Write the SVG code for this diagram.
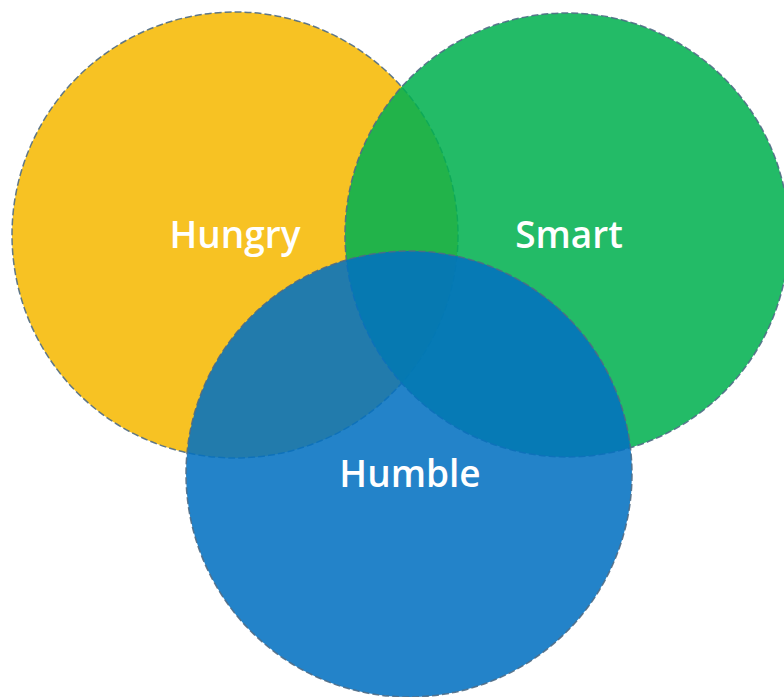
<svg xmlns="http://www.w3.org/2000/svg" width="784" height="697" viewBox="0 0 784 697">
<style>
.c{fill-opacity:0.87;stroke:#4f6b85;stroke-width:1.5;stroke-dasharray:7,3;stroke-opacity:0.9}
.t{fill:#ffffff;font-family:"Open Sans","Liberation Sans",sans-serif;font-size:37px;font-weight:600;text-anchor:middle}
</style>
<rect width="784" height="697" fill="#ffffff"/>
<g id="hungry"><circle class="c" cx="235" cy="235" r="223" fill="#F6B902"/></g>
<g id="smart"><circle class="c" cx="567" cy="235" r="222" fill="#02B150"/></g>
<g id="humble"><circle class="c" cx="409" cy="474" r="223" fill="#0271C1"/></g>
<g id="labels">
<text class="t" x="235" y="248">Hungry</text>
<text class="t" x="569" y="248">Smart</text>
<text class="t" x="410" y="487">Humble</text>
</g>
<g id="connectors"/>
</svg>
